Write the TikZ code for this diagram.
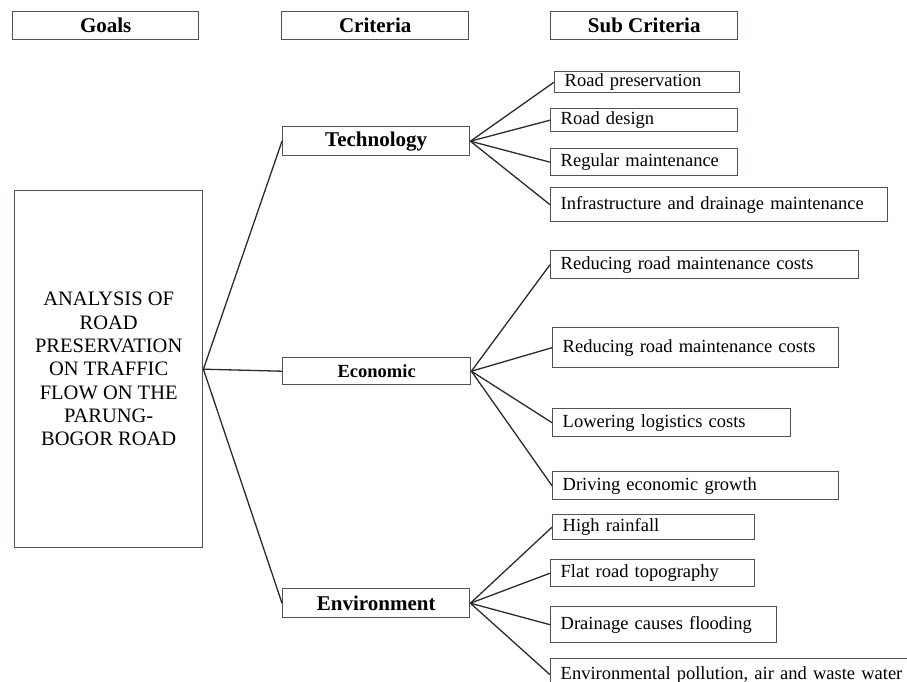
\documentclass[tikz,border=0pt]{standalone}
\usepackage{fontspec}
\setmainfont{Liberation Serif}
\usepackage{tikz}
\definecolor{boxblue}{HTML}{44546A}
\definecolor{linegray}{HTML}{2B2B2B}
\usetikzlibrary{positioning}
\tikzstyle{conn} = [draw=linegray, line width=1.3pt]

\begin{document}
\begin{tikzpicture}[x=1pt, y=-1pt]
                    \tikzstyle{every node}=[line width=1.4pt, draw=boxblue, inner sep=0pt, anchor=north west]
                    \tikzstyle{head} = [font=\fontsize{21}{21}\selectfont\bfseries, minimum height=28pt]
                    \tikzstyle{goalbox} = [font=\fontsize{20.5}{23.3}\selectfont, align=center, minimum width=188pt, minimum height=357pt]
                    \tikzstyle{crit} = [font=\fontsize{21}{21}\selectfont\bfseries]
                    \tikzstyle{subcrit} = [font=\fontsize{18.5}{20}\selectfont, inner xsep=10pt, align=left]

                    \useasboundingbox (0,0) rectangle (907,682);
                    \clip (0,0) rectangle (907,682);

                    % column headers
                    \node[head, minimum width=186pt](goals) at (12,11) {Goals};
                    \node[head, minimum width=187pt](criteria) at (281,11) {Criteria};
                    \node[head, minimum width=187pt](subcriteria) at (550,11) {Sub Criteria};

                    % goal
                    \node[goalbox](goal) at (14,190) {ANALYSIS OF\\ROAD\\PRESERVATION\\ON TRAFFIC\\FLOW ON THE\\PARUNG-\\BOGOR ROAD};

                    % criteria
                    \node[crit, minimum width=187pt, minimum height=29pt](tech) at (282,126) {Technology};
                    \node[crit, font=\fontsize{18.5}{18.5}\selectfont\bfseries, minimum width=188pt, minimum height=27pt](econ) at (282,357) {Economic};
                    \node[crit, minimum width=187pt, minimum height=29pt](env) at (282,588) {Environment};

                    % sub criteria
                    \node[subcrit, text width=165pt, minimum height=21pt](preserve) at (554,71) {Road preservation};
                    \node[subcrit, text width=167pt, minimum height=23pt](design) at (550,108) {Road design};
                    \node[subcrit, text width=167pt, minimum height=27pt](regular) at (550,148) {Regular maintenance};
                    \node[subcrit, text width=317pt, minimum height=34pt](drainage) at (550,187) {Infrastructure and drainage maintenance};

                    \node[subcrit, text width=288pt, minimum height=28pt](costsa) at (550,250) {Reducing road maintenance costs};
                    \node[subcrit, text width=266pt, minimum height=40pt](costsb) at (552,327) {Reducing road maintenance costs};
                    \node[subcrit, text width=218pt, minimum height=28pt](logistics) at (552,408) {Lowering logistics costs};
                    \node[subcrit, text width=266pt, minimum height=28pt](growth) at (552,471) {Driving economic growth};

                    \node[subcrit, text width=182pt, minimum height=25pt](rain) at (552,514) {High rainfall};
                    \node[subcrit, text width=184pt, minimum height=27pt](flat) at (550,559) {Flat road topography};
                    \node[subcrit, text width=206pt, minimum height=36pt](flood) at (550,606) {Drainage causes flooding};
                    \node[subcrit, text width=345pt, minimum height=32pt](pollution) at (550,658) {Environmental pollution, air and waste water};

                    % connectors
                    \draw[conn] (goal.east) -- (tech.west);
                    \draw[conn] (goal.east) -- (econ.west);
                    \draw[conn] (goal.east) -- (env.west);

                    \draw[conn] (tech.east) -- (preserve.west);
                    \draw[conn] (tech.east) -- (design.west);
                    \draw[conn] (tech.east) -- (regular.west);
                    \draw[conn] (tech.east) -- (drainage.west);

                    \draw[conn] (econ.east) -- (costsa.west);
                    \draw[conn] (econ.east) -- (costsb.west);
                    \draw[conn] (econ.east) -- (logistics.west);
                    \draw[conn] (econ.east) -- (growth.west);

                    \draw[conn] (env.east) -- (rain.west);
                    \draw[conn] (env.east) -- (flat.west);
                    \draw[conn] (env.east) -- (flood.west);
                    \draw[conn] (env.east) -- (pollution.west);
            \end{tikzpicture}
\end{document}
